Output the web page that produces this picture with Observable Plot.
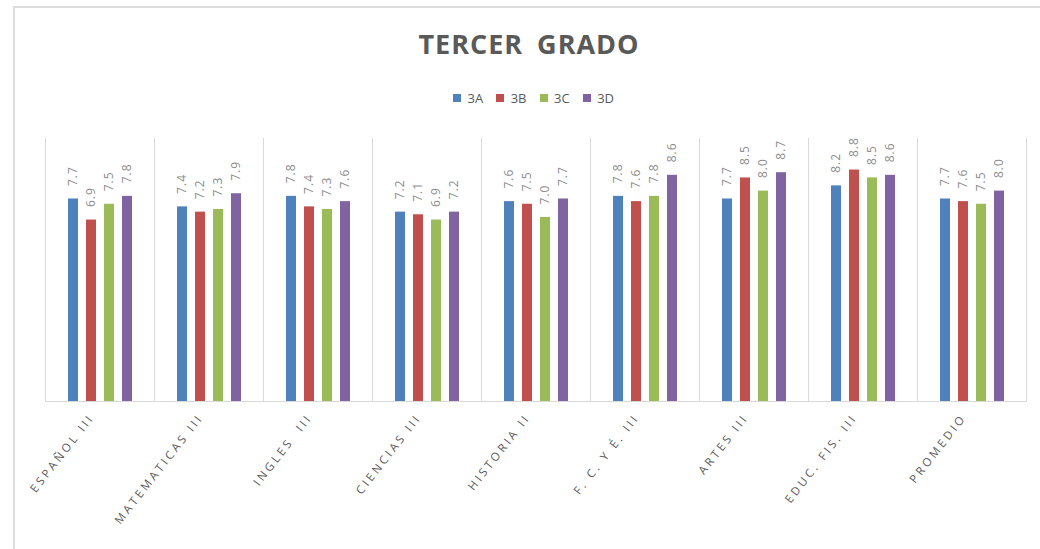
<!DOCTYPE html>
<html>
<head>
<meta charset="utf-8">
<script src="https://cdn.jsdelivr.net/npm/d3@7"></script>
<script src="https://cdn.jsdelivr.net/npm/@observablehq/plot@0.6"></script>
<style>
  html, body { margin: 0; padding: 0; background: #fff; }
  body { width: 1040px; height: 549px; position: relative; overflow: hidden; font-family: "Open Sans", "Noto Sans", sans-serif; }
  #border { position: absolute; left: 13px; top: 6px; width: 1100px; height: 600px; border-top: 2px solid #dcdcdc; border-left: 2px solid #dcdcdc; }
  #title { position: absolute; left: 0; width: 1058px; top: 30px; text-align: center; font-size: 27px; line-height: 1; font-weight: 700; color: #595959; letter-spacing: 1px; word-spacing: 6px; }
  #legend { position: absolute; left: 0; width: 1080px; top: 81px; display: flex; justify-content: center; }
  #legend > * { font-family: "Open Sans", "Noto Sans", sans-serif !important; font-size: 13px !important; color: #595959 !important; }
  #chart { position: absolute; left: 0; top: 110px; }
  #chart g[aria-label="fx-axis tick label"] text { letter-spacing: 3px; }
  #chart g[aria-label="text"] text { letter-spacing: 1px; }
</style>
</head>
<body>
<div id="border"></div>
<div id="title">TERCER GRADO</div>
<div id="legend"></div>
<div id="chart"></div>
<script>
const subjects = ["ESPAÑOL III", "MATEMATICAS III", "INGLES  III", "CIENCIAS III", "HISTORIA II", "F. C. Y É. III", "ARTES III", "EDUC. FIS. III", "PROMEDIO"];
const groups = ["3A", "3B", "3C", "3D"];
const v3A = [7.7, 7.4, 7.8, 7.2, 7.6, 7.8, 7.7, 8.2, 7.7];
const v3B = [6.9, 7.2, 7.4, 7.1, 7.5, 7.6, 8.5, 8.8, 7.6];
const v3C = [7.5, 7.3, 7.3, 6.9, 7.0, 7.8, 8.0, 8.5, 7.5];
const v3D = [7.8, 7.9, 7.6, 7.2, 7.7, 8.6, 8.7, 8.6, 8.0];
const colors = ["#4f81bd", "#c0504d", "#9bbb59", "#8064a2"];

const series = [v3A, v3B, v3C, v3D];
const data = [];
subjects.forEach((s, i) => {
  groups.forEach((g, j) => {
    data.push({subject: s, group: g, value: series[j][i]});
  });
});

const chart = Plot.plot({
  width: 1040,
  height: 439,
  marginTop: 28,
  marginBottom: 148,
  marginLeft: 43,
  marginRight: 13,
  style: {fontFamily: "'Open Sans', 'Noto Sans', sans-serif", background: "transparent"},
  fx: {domain: subjects, padding: 0, label: null, axis: null},
  x: {domain: groups, paddingInner: 0.465, paddingOuter: 1.17, axis: null},
  y: {domain: [0, 10], axis: null},
  color: {domain: groups, range: colors},
  marks: [
    Plot.frame({anchor: "left", stroke: "#d9d9d9"}),
    Plot.frame({anchor: "right", stroke: "#d9d9d9"}),
    Plot.ruleY([0], {stroke: "#d9d9d9"}),
    Plot.barY(data, {fx: "subject", x: "group", y: "value", fill: "group"}),
    Plot.text(data, {fx: "subject", x: "group", y: "value", text: d => d.value.toFixed(1), rotate: -90, textAnchor: "start", dy: -13, fill: "#8c8c8c", fontSize: 12}),
    Plot.axisFx({anchor: "bottom", tickSize: 0, tickPadding: 14, tickRotate: -52, dx: -8, fontSize: 11.5, fill: "#595959", label: null})
  ]
});
document.getElementById("chart").appendChild(chart);

const legend = Plot.legend({color: {domain: groups, range: colors}, legend: "swatches", swatchSize: 8});
document.getElementById("legend").appendChild(legend);
</script>
</body>
</html>
